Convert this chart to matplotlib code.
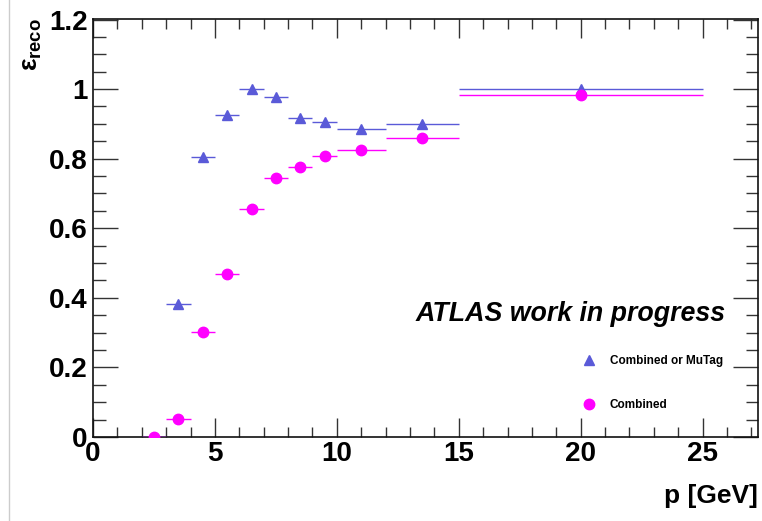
import matplotlib
matplotlib.use("Agg")
import matplotlib.pyplot as plt
from matplotlib.lines import Line2D
import numpy as np

plt.rcParams['font.family'] = ['Liberation Sans', 'DejaVu Sans']
plt.rcParams['mathtext.fontset'] = 'custom'
plt.rcParams['mathtext.rm'] = 'Liberation Sans:bold'
plt.rcParams['mathtext.it'] = 'Liberation Sans:bold'

# Data
bin_centers = [2.5, 3.5, 4.5, 5.5, 6.5, 7.5, 8.5, 9.5, 11.0, 13.5, 20.0]
bin_halfwidths = [0.5, 0.5, 0.5, 0.5, 0.5, 0.5, 0.5, 0.5, 1.0, 1.5, 5.0]
eff_comb_or_mutag = [0.0, 0.383, 0.806, 0.926, 1.0, 0.977, 0.917, 0.905, 0.885, 0.901, 1.0]
eff_combined = [0.0, 0.052, 0.303, 0.468, 0.654, 0.745, 0.776, 0.809, 0.826, 0.860, 0.984]
label_mutag = "Combined or MuTag"
label_comb = "Combined"

blue = '#5a5ad8'
magenta = '#ff00ff'

fig = plt.figure(figsize=(7.62, 5.21), dpi=100)
ax = fig.add_axes([93/762, 1-437/521, (758-93)/762, (437-19.5)/521])

ax.errorbar(bin_centers, eff_comb_or_mutag, xerr=bin_halfwidths, fmt='^', color=blue,
            ms=7.5, elinewidth=1.0, capsize=0, zorder=3)
ax.errorbar(bin_centers, eff_combined, xerr=bin_halfwidths, fmt='o', color=magenta,
            ms=7.5, elinewidth=1.0, capsize=0, zorder=3)

ax.set_xlim(0, 27.27)
ax.set_ylim(0, 1.2)
ax.set_xticks([0, 5, 10, 15, 20, 25])
ax.set_xticks(np.arange(0, 27.5, 1), minor=True)
ax.set_yticks([0, 0.2, 0.4, 0.6, 0.8, 1.0, 1.2])
ax.set_yticklabels(['0', '0.2', '0.4', '0.6', '0.8', '1', '1.2'])
ax.set_yticks(np.arange(0, 1.21, 0.05), minor=True)

ax.tick_params(axis='both', which='both', direction='in', top=True, right=True,
               color='#333333', width=1)
ax.tick_params(axis='x', which='major', length=14, pad=3)
ax.tick_params(axis='x', which='minor', length=7)
ax.tick_params(axis='y', which='major', length=18, pad=4)
ax.tick_params(axis='y', which='minor', length=9)
for lab in ax.get_xticklabels() + ax.get_yticklabels():
    lab.set_fontsize(20)
    lab.set_fontweight('bold')
for s in ax.spines.values():
    s.set_linewidth(1.2)
    s.set_color('#111111')

fig.text(758/762, 1-496/521, 'p [GeV]', ha='right', va='center', fontsize=19, fontweight='bold')
fig.text(32/762, 1-45/521, r'$\varepsilon_{reco}$', rotation=90, ha='center', va='center', fontsize=19)

fig.text(726/762, 1-314/521, 'ATLAS work in progress', ha='right', va='center',
         fontsize=19.3, fontweight='bold', style='italic')

# legend
h1 = Line2D([], [], marker='^', color=blue, linestyle='none', ms=7.5)
h2 = Line2D([], [], marker='o', color=magenta, linestyle='none', ms=7.5)
leg = ax.legend([h1, h2], [label_mutag, label_comb], loc='upper left',
                bbox_to_anchor=((578-93)/665, 1-(350-19.5)/417.5), frameon=False,
                prop={'size': 8.5, 'weight': 'bold'}, labelspacing=2.75, handletextpad=1.3,
                handlelength=1.0, borderaxespad=0)

fig.add_artist(Line2D([9/762, 9/762], [0, 1], color='#cccccc', lw=1))

fig.savefig('out.png', dpi=100)
